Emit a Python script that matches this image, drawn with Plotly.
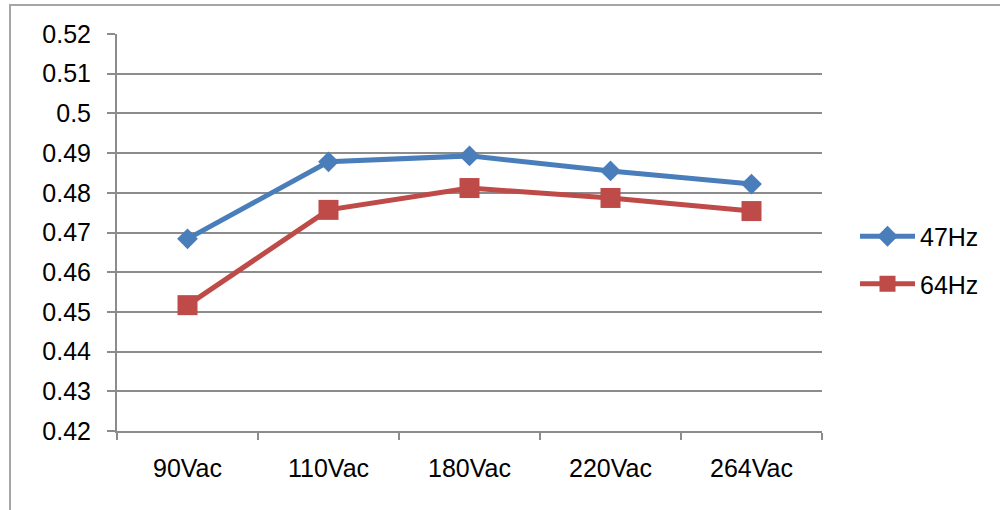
import plotly.graph_objects as go

categories = ["90Vac", "110Vac", "180Vac", "220Vac", "264Vac"]
hz47 = [0.4684, 0.4878, 0.4893, 0.4855, 0.4822]
hz64 = [0.4517, 0.4757, 0.4812, 0.4787, 0.4754]
series_names = ["47Hz", "64Hz"]
ytick_vals = [0.42, 0.43, 0.44, 0.45, 0.46, 0.47, 0.48, 0.49, 0.50, 0.51, 0.52]
ytick_text = ["0.42", "0.43", "0.44", "0.45", "0.46", "0.47", "0.48", "0.49", "0.5", "0.51", "0.52"]

BLUE = "#4A7EBB"
RED = "#BE4B48"
GRID = "#8C8C8C"
FONT = "Liberation Sans, Arial, sans-serif"

L, R, T, B = 117, 178, 34, 79
W, H = 1000, 510
pw, ph = W - L - R, H - T - B

fig = go.Figure()
fig.add_trace(go.Scatter(
    x=categories, y=hz47, name=series_names[0], mode="lines+markers",
    legendgroup="a",
    line=dict(color=BLUE, width=5),
    marker=dict(symbol="diamond", size=16, color=BLUE),
))
fig.add_trace(go.Scatter(
    x=categories, y=hz64, name=series_names[1], mode="lines+markers",
    legendgroup="b",
    line=dict(color=RED, width=5),
    marker=dict(symbol="square", size=20, color=RED),
))

# outer chart border
fig.add_shape(type="rect", xref="paper", yref="paper",
              x0=(10 - L) / pw, x1=(1010 - L) / pw,
              y0=(H - B - 520) / ph, y1=(H - B - 5) / ph,
              line=dict(color="#A6A6A6", width=2), fillcolor="rgba(0,0,0,0)",
              layer="below")

fig.update_layout(
    width=W, height=H,
    margin=dict(l=L, r=R, t=T, b=B, autoexpand=False),
    paper_bgcolor="white", plot_bgcolor="white",
    font=dict(family=FONT, size=25, color="#000000"),
    showlegend=True,
    legend=dict(x=(855 - L) / pw, xanchor="left", y=(H - B - 260) / ph, yanchor="middle",
                font=dict(family=FONT, size=25, color="#000000"),
                tracegroupgap=12, itemwidth=55, bgcolor="rgba(0,0,0,0)"),
    xaxis=dict(
        type="category", range=[-0.5, 4.5],
        showgrid=False, showline=True, linecolor=GRID, linewidth=2,
        ticks="outside", tickson="boundaries", ticklen=7, tickcolor=GRID, tickwidth=1.5,
        ticklabelstandoff=14, zeroline=False,
    ),
    yaxis=dict(
        range=[0.42, 0.52], tickvals=ytick_vals, ticktext=ytick_text,
        showgrid=True, gridcolor=GRID, gridwidth=1.5,
        showline=True, linecolor=GRID, linewidth=2,
        ticks="outside", ticklen=8, tickcolor=GRID, tickwidth=1.5,
        ticklabelstandoff=11, zeroline=False,
    ),
)

fig.write_html("out.html", config={"displayModeBar": False},
               post_script="document.body.style.margin='0';")
